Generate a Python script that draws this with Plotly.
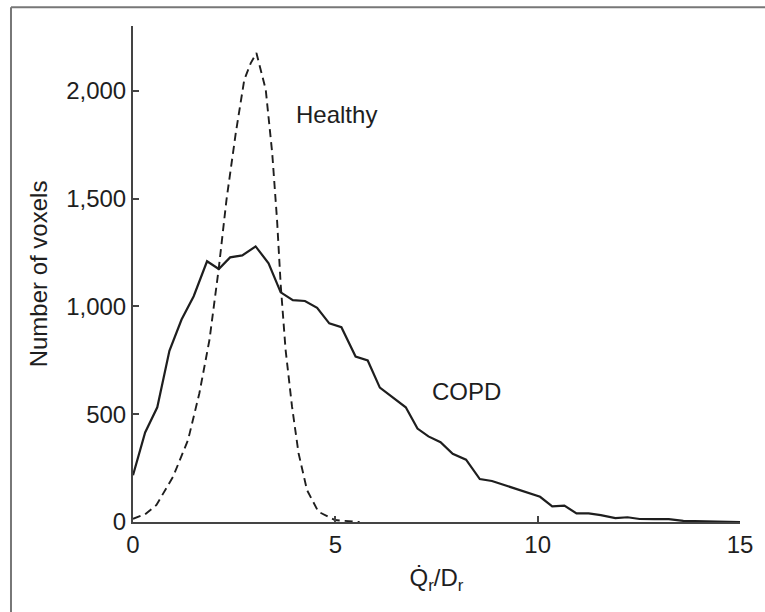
"""
Voxel distribution of Qr/Dr for healthy vs COPD lungs.
"""
import plotly.graph_objects as go

# COPD histogram (solid line)
copd_x = [0, 0.3, 0.6, 0.9, 1.2, 1.5, 1.83, 2.12, 2.4, 2.7, 3.03, 3.35, 3.65, 3.95,
          4.25, 4.55, 4.85, 5.15, 5.5, 5.8, 6.1, 6.43, 6.74, 7.03, 7.3, 7.6, 7.9,
          8.23, 8.57, 8.87, 9.17, 9.46, 9.77, 10.06, 10.36, 10.66, 10.96, 11.26,
          11.56, 11.92, 12.22, 12.52, 12.88, 13.24, 13.6, 13.96, 14.3, 14.65, 15]
copd_y = [217, 415, 532, 794, 939, 1047, 1209, 1173, 1227, 1236, 1278, 1200, 1065, 1029,
          1025, 993, 921, 903, 767, 749, 623, 578, 532, 433, 397, 370, 316,
          289, 199, 190, 171, 153, 135, 117, 72, 76, 40, 40,
          32, 18, 22, 14, 13, 13, 5, 4, 2, 1, 0]

# Healthy histogram (dashed line)
healthy_x = [0, 0.3, 0.58, 0.99, 1.36, 1.64, 1.89, 2.12, 2.31, 2.54, 2.75, 2.91, 3.05,
             3.28, 3.44, 3.56, 3.65, 3.77, 3.93, 4.09, 4.3, 4.58, 4.99, 5.6]
healthy_y = [15, 36, 79, 210, 380, 597, 845, 1177, 1494, 1804, 2051, 2128, 2175,
             2005, 1711, 1400, 1100, 800, 535, 320, 148, 48, 9, 0]

x_ticks = [0, 5, 10, 15]
y_ticks = [0, 500, 1000, 1500, 2000]
y_tick_labels = ['0', '500', '1,000', '1,500', '2,000']

FONT = 'Liberation Sans, Arial, sans-serif'
INK = '#1e1e1e'
AXIS = '#444444'
FS = 24

fig = go.Figure()

fig.add_trace(go.Scatter(
    x=healthy_x, y=healthy_y,
    mode='lines',
    name='Healthy',
    line=dict(color=INK, width=1.9, dash='8px,5px'),
))

fig.add_trace(go.Scatter(
    x=copd_x, y=copd_y,
    mode='lines',
    name='COPD',
    line=dict(color=INK, width=2.2),
))

fig.add_annotation(x=3.99, y=1890, text='Healthy', showarrow=False,
                   xanchor='left', yanchor='middle', font=dict(size=FS, color=INK))
fig.add_annotation(x=7.33, y=603, text='COPD', showarrow=False,
                   xanchor='left', yanchor='middle', font=dict(size=FS, color=INK))

# outer frame of the original figure (only left and top edges are visible)
fig.add_shape(type='line', xref='paper', yref='paper',
              x0=-0.201, x1=-0.201, y0=-0.4, y1=1.038,
              line=dict(color='#777777', width=2))
fig.add_shape(type='line', xref='paper', yref='paper',
              x0=-0.201, x1=1.2, y0=1.038, y1=1.038,
              line=dict(color='#777777', width=2))

fig.update_layout(
    width=765, height=612,
    margin=dict(l=133, r=15, t=26, b=90),
    paper_bgcolor='white',
    plot_bgcolor='white',
    showlegend=False,
    font=dict(family=FONT, size=FS, color=INK),
    xaxis=dict(
        range=[0, 15],
        tickvals=x_ticks,
        ticks='inside', ticklen=6, tickwidth=1.5, tickcolor=AXIS,
        showline=True, linecolor=AXIS, linewidth=2,
        showgrid=False, zeroline=False,
        tickfont=dict(size=FS),
        title=dict(text='Q\u0307<sub>r</sub>/D<sub>r</sub>', font=dict(size=FS), standoff=12),
    ),
    yaxis=dict(
        range=[0, 2300],
        tickvals=y_ticks,
        ticktext=y_tick_labels,
        ticks='inside', ticklen=6, tickwidth=1.5, tickcolor=AXIS,
        showline=True, linecolor=AXIS, linewidth=2,
        showgrid=False, zeroline=False,
        tickfont=dict(size=FS),
        title=dict(text='Number of voxels', font=dict(size=FS), standoff=12),
    ),
)

# drop the page's default body margin so the figure sits at the window corner
fig.write_html("out.html", config={'displayModeBar': False},
               post_script="document.body.style.margin='0';")
